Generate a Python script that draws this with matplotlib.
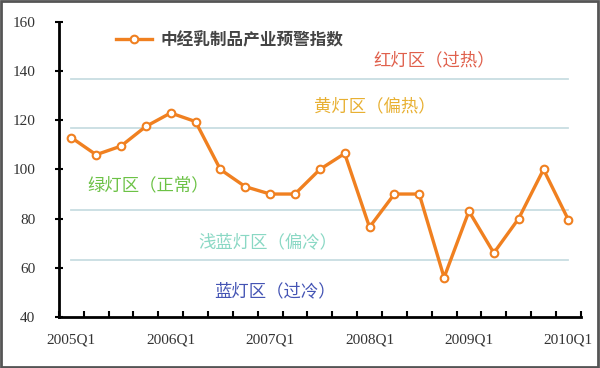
import matplotlib
matplotlib.use("Agg")
import matplotlib.pyplot as plt
from matplotlib.patches import Rectangle

# Quarterly index values, 2005Q1 .. 2010Q1
quarters = [f"{y}Q{q}" for y in range(2005, 2011) for q in range(1, 5)][:21]
index_values = [113, 106, 109.5, 117.5, 123, 119.5, 100, 93, 90, 90, 100, 106.5,
                76.5, 90, 90, 56, 83, 66, 80, 100, 79.5]
series_name = "中经乳制品产业预警指数"

# zone boundary lines and zone labels
zone_bounds = [137, 117, 83.5, 63]
zone_labels = ["红灯区（过热）", "黄灯区（偏热）", "绿灯区（正常）", "浅蓝灯区（偏冷）", "蓝灯区（过冷）"]
zone_label_x = [14.6, 12.2, 3.1, 7.9, 8.2]
zone_label_y = [144.5, 125.5, 93.5, 70.5, 50.5]
zone_colors = ["#e0604c", "#e8b032", "#6cc246", "#8ad8c4", "#4454b4"]

cjk = ["Noto Sans CJK SC", "DejaVu Sans"]
serif = ["Liberation Serif", "DejaVu Serif"]

fig = plt.figure(figsize=(6, 3.68), dpi=100)
ax = fig.add_axes([0.098, 0.139, 0.87, 0.801])

x = list(range(len(index_values)))
for b in zone_bounds:
    ax.plot([0.0, 20.0], [b, b], color="#c8dde2", lw=1.3, zorder=1)

ax.plot(x, index_values, color="#f08020", lw=2.4, marker="o", ms=5.5,
        mfc="white", mec="#f08020", mew=1.5, zorder=3, label=series_name)

for lab, lx, ly, c in zip(zone_labels, zone_label_x, zone_label_y, zone_colors):
    ax.text(lx, ly, lab, color=c, fontsize=12.5, family=cjk, ha="center", va="center", zorder=2)

ax.set_xlim(-0.5, 20.5)
ax.set_ylim(40, 160)
ax.set_yticks([40, 60, 80, 100, 120, 140, 160])
ax.set_xticks([0, 4, 8, 12, 16, 20])
ax.set_xticklabels([quarters[i] for i in [0, 4, 8, 12, 16, 20]])
ax.set_xticks([i + 0.5 for i in range(-1, 21)], minor=True)
ax.tick_params(axis="x", which="major", length=0, pad=12)
ax.tick_params(axis="x", which="minor", direction="in", length=4, width=1.5)
ax.tick_params(axis="y", direction="inout", length=6, width=1.5, pad=14)
for lbl in ax.get_xticklabels() + ax.get_yticklabels():
    lbl.set_family(serif)
    lbl.set_fontsize(11)
    lbl.set_color("#333333")

ax.spines["top"].set_visible(False)
ax.spines["right"].set_visible(False)
ax.spines["left"].set_linewidth(2)
ax.spines["bottom"].set_linewidth(2)

leg = ax.legend(loc="upper left", bbox_to_anchor=(0.08, 1.02), frameon=False,
                prop={"family": cjk, "size": 12, "weight": "bold"},
                handlelength=2.2, handletextpad=0.5)
for t in leg.get_texts():
    t.set_color("#444444")

fig.patches.append(Rectangle((0.002, 0.003), 0.995, 0.994, transform=fig.transFigure,
                             fill=False, edgecolor="#555555", lw=2))

fig.savefig("out.png", dpi=100)
